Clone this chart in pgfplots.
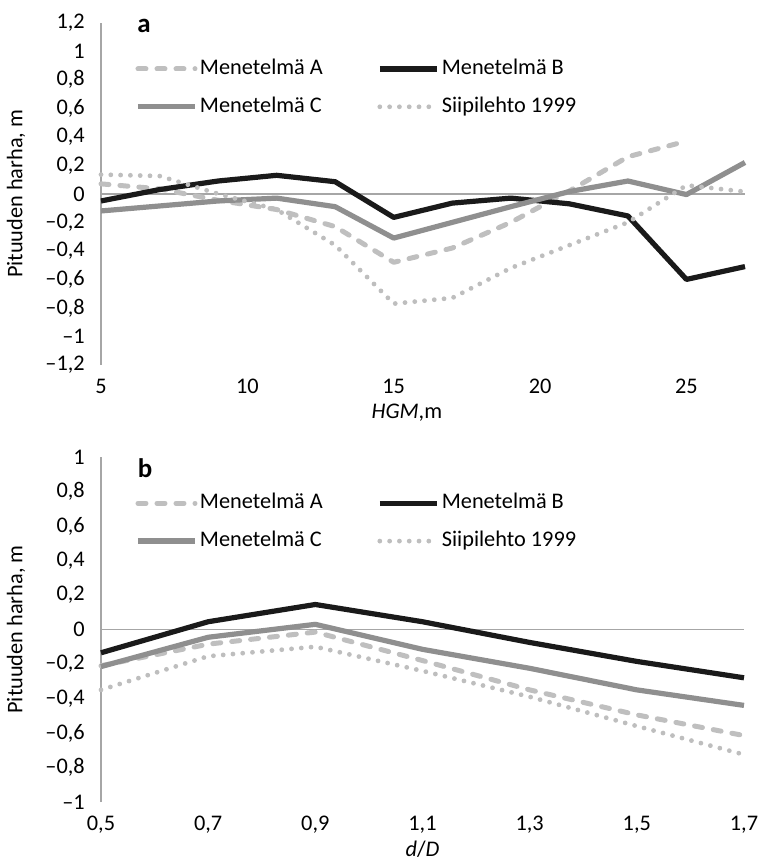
\documentclass[border=0pt]{standalone}
\usepackage{fontspec}
\setmainfont{Carlito}
\usepackage{pgfplots}
\usepackage{pgfplotstable}
\pgfplotsset{compat=1.18}
\definecolor{cA}{HTML}{BFBFBF}
\definecolor{cB}{HTML}{1A1A1A}
\definecolor{cC}{HTML}{8F8F8F}
\definecolor{cS}{HTML}{BEBEBE}
\definecolor{axgray}{HTML}{A6A6A6}

\pgfplotstableread{
x   A      B       C       S
5   0.07   -0.05   -0.12   0.135
7   0.035  0.03    -0.085  0.125
9   -0.045 0.09    -0.05   0.0
11  -0.11  0.13    -0.03   -0.11
13  -0.23  0.085   -0.09   -0.36
15  -0.48  -0.165  -0.31   -0.77
17  -0.38  -0.065  -0.2    -0.73
19  -0.2   -0.03   -0.09   -0.52
21  0.02   -0.07   0.016   -0.36
23  0.26   -0.155  0.09    -0.2
25  0.37   -0.6    -0.005  0.06
27  nan    -0.51   0.22    0.015
}\tabA

\pgfplotstableread{
x    A       B       C       S
0.5  -0.21   -0.135  -0.215  -0.35
0.7  -0.085  0.045   -0.045  -0.155
0.9  -0.015  0.145   0.03    -0.1
1.1  -0.18   0.045   -0.115  -0.24
1.3  -0.35   -0.075  -0.225  -0.39
1.5  -0.495  -0.185  -0.35   -0.56
1.7  -0.615  -0.28   -0.44   -0.725
}\tabB

\newcommand{\ff}{\fontsize{11.2}{13.4}\selectfont}
\pgfplotsset{
 mystyle/.style={
  scale only axis,
  axis lines=left,
  axis line style={-},
  x axis line style={draw=none},
  y axis line style={draw=axgray, line width=0.75bp},
  tick style={draw=none},
  font=\ff,
  ticklabel style={font=\ff},
  yticklabel style={xshift=-2.5bp},
  xticklabel style={inner sep=0.5bp, yshift=-4.4bp},
  clip=false,
  unbounded coords=jump,
  legend columns=2,
  legend cell align=left,
  legend style={draw=none, fill=none, inner sep=0pt, at={(0,1)}, anchor=north west,
     xshift=17bp, yshift=-16.5bp,
     font=\ff,
     nodes={inner sep=1.2bp, text height=8bp, text depth=2.5bp},
     row sep=6bp,
     /tikz/every even column/.append style={column sep=26bp}},
  legend image code/.code={\draw[##1] (0bp,0bp) -- (28.5bp,0bp);},
  every axis y label/.style={at={(axis description cs:-0.132,0.5)}, rotate=90, anchor=center},
 },
 sA/.style={cA, line width=2.5bp, dash pattern=on 4bp off 5.5bp, line cap=round, line join=round},
 sB/.style={cB, line width=2.6bp, line join=round},
 sC/.style={cC, line width=2.6bp, line join=round},
 sS/.style={cS, line width=2.4bp, dash pattern=on 0bp off 4.9bp, line cap=round, line join=round},
}

\begin{document}
\begin{tikzpicture}
\useasboundingbox (0,0) rectangle (380.5bp,430bp);

% Panel a
\begin{axis}[mystyle,
  at={(50.5bp,247.5bp)}, anchor=south west,
  width=322bp, height=171.15bp,
  xmin=5, xmax=27, ymin=-1.2, ymax=1.2,
  xtick={5,10,15,20,25}, xticklabels={5,10,15,20,25},
  ytick={-1.2,-1,-0.8,-0.6,-0.4,-0.2,0,0.2,0.4,0.6,0.8,1,1.2},
  yticklabels={{\textendash1,2},{\textendash1},{\textendash0,8},{\textendash0,6},{\textendash0,4},{\textendash0,2},{0},{0,2},{0,4},{0,6},{0,8},{1},{1,2}},
  ylabel={Pituuden harha, m},
  xlabel={\textit{HGM},m},
  every axis x label/.style={at={(axis description cs:0.475,0)}, anchor=center, inner sep=0pt, yshift=-23.6bp},
]
\addplot[axgray, line width=0.75bp, forget plot] coordinates {(5,0) (27,0)};
\addplot[sA] table[x=x, y=A] {\tabA};
\addplot[sB] table[x=x, y=B] {\tabA};
\addplot[sC] table[x=x, y=C] {\tabA};
\addplot[sS] table[x=x, y=S] {\tabA};
\legend{Menetelmä A, Menetelmä B, Menetelmä C, Siipilehto 1999}
\node[font=\bfseries\fontsize{13.5}{15}\selectfont, anchor=center] at (axis description cs:0,1) [xshift=21.5bp, yshift=-1.5bp] {a};
\end{axis}

% Panel b
\begin{axis}[mystyle,
  at={(50.5bp,29bp)}, anchor=south west,
  width=321.5bp, height=172.5bp,
  xmin=0.5, xmax=1.7, ymin=-1, ymax=1,
  xtick={0.5,0.7,0.9,1.1,1.3,1.5,1.7},
  xticklabels={{0,5},{0,7},{0,9},{1,1},{1,3},{1,5},{1,7}},
  ytick={-1,-0.8,-0.6,-0.4,-0.2,0,0.2,0.4,0.6,0.8,1},
  yticklabels={{\textendash1},{\textendash0,8},{\textendash0,6},{\textendash0,4},{\textendash0,2},{0},{0,2},{0,4},{0,6},{0,8},{1}},
  ylabel={Pituuden harha, m},
  xlabel={\textit{d}/\textit{D}},
  every axis x label/.style={at={(axis description cs:0.5,0)}, anchor=center, inner sep=0pt, yshift=-23.6bp},
]
\addplot[axgray, line width=0.75bp, forget plot] coordinates {(0.5,0) (1.7,0)};
\addplot[sA] table[x=x, y=A] {\tabB};
\addplot[sB] table[x=x, y=B] {\tabB};
\addplot[sC] table[x=x, y=C] {\tabB};
\addplot[sS] table[x=x, y=S] {\tabB};
\legend{Menetelmä A, Menetelmä B, Menetelmä C, Siipilehto 1999}
\node[font=\bfseries\fontsize{13.5}{15}\selectfont, anchor=center] at (axis description cs:0,1) [xshift=22bp, yshift=-5.5bp] {b};
\end{axis}
\end{tikzpicture}
\end{document}
